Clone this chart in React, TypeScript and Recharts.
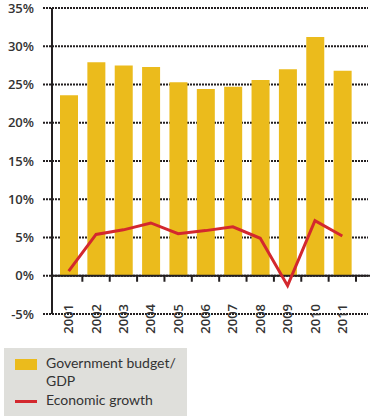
import { ComposedChart, Bar, Line, XAxis, YAxis, CartesianGrid, ReferenceLine } from 'recharts';

const years = ['2001', '2002', '2003', '2004', '2005', '2006', '2007', '2008', '2009', '2010', '2011'];
const budgetGdp = [23.6, 27.9, 27.5, 27.3, 25.3, 24.4, 24.7, 25.6, 27.0, 31.2, 26.8];
const growth = [0.6, 5.4, 6.0, 6.9, 5.5, 5.9, 6.4, 4.9, -1.3, 7.2, 5.2];
const yTicks = [-5, 0, 5, 10, 15, 20, 25, 30, 35];

const data = years.map((year, i) => ({ year, budget: budgetGdp[i], growth: growth[i] }));

const PAD_LEFT = 3;
const PAD_RIGHT = 12;
const INK = '#231f20';
const TEXT = '#333333';
const YELLOW = '#ebbb1c';
const RED = '#d3282e';

// zero line with small ticks hanging below it at the category boundaries
function ZeroLine(props: any) {
  const { x1, x2, y1 } = props;
  const band = (x2 - x1 - PAD_LEFT - PAD_RIGHT) / years.length;
  return (
    <g>
      <line x1={x1} y1={y1} x2={x2 + 2} y2={y1} stroke={INK} strokeWidth={2} />
      {years.map((y, i) => {
        const x = x1 + PAD_LEFT + band * (i + 1);
        return <line key={y} x1={x} y1={y1} x2={x} y2={y1 + 6} stroke={INK} strokeWidth={2} />;
      })}
    </g>
  );
}

function YearTick(props: any) {
  const { x, y, payload } = props;
  return (
    <g transform={`translate(${x},${y - 10}) rotate(-90)`}>
      <text
        x={0}
        y={0}
        dy="0.35em"
        textAnchor="end"
        fill={TEXT}
        fontSize={13}
        fontWeight={600}
        fontFamily="'Open Sans', sans-serif"
      >
        {payload.value}
      </text>
    </g>
  );
}

export default function App() {
  return (
    <div style={{ position: 'absolute', left: 0, top: 0, width: 377, height: 420, background: '#fff' }}>
      <ComposedChart
        width={377}
        height={341}
        data={data}
        margin={{ top: 8, right: 9, left: 0, bottom: 0 }}
      >
        <CartesianGrid vertical={false} stroke={INK} strokeWidth={2} strokeDasharray="2 1" />
        <XAxis
          dataKey="year"
          padding={{ left: PAD_LEFT, right: PAD_RIGHT }}
          axisLine={false}
          tickLine={false}
          tickSize={0}
          tickMargin={0}
          height={27}
          interval={0}
          tick={<YearTick />}
        />
        <YAxis
          domain={[-5, 35]}
          ticks={yTicks}
          interval={0}
          width={52}
          tickSize={9}
          tickMargin={9}
          tickFormatter={(v) => `${v}%`}
          axisLine={{ stroke: INK, strokeWidth: 2 }}
          tickLine={{ stroke: INK, strokeWidth: 2, strokeDasharray: '2 1' }}
          tick={{ fill: TEXT, fontSize: 13, fontWeight: 600, fontFamily: "'Open Sans', sans-serif" }}
        />
        <Bar dataKey="budget" fill={YELLOW} barSize={18} isAnimationActive={false} />
        <ReferenceLine y={0} shape={<ZeroLine />} />
        <Line
          dataKey="growth"
          type="linear"
          stroke={RED}
          strokeWidth={3}
          dot={false}
          isAnimationActive={false}
        />
      </ComposedChart>
      <div
        style={{
          position: 'absolute',
          left: 4,
          top: 348,
          width: 183,
          height: 68,
          background: '#dfdfdb',
          fontFamily: 'Lato, sans-serif',
          fontSize: 14,
          color: TEXT,
        }}
      >
        <div style={{ position: 'absolute', left: 11, top: 11, width: 22, height: 11, background: YELLOW }} />
        <div style={{ position: 'absolute', left: 42, top: 6, lineHeight: '18px' }}>
          Government budget/
          <br />
          GDP
        </div>
        <div style={{ position: 'absolute', left: 11, top: 52, width: 22, height: 3, background: RED }} />
        <div style={{ position: 'absolute', left: 42, top: 43, lineHeight: '18px' }}>Economic growth</div>
      </div>
    </div>
  );
}
